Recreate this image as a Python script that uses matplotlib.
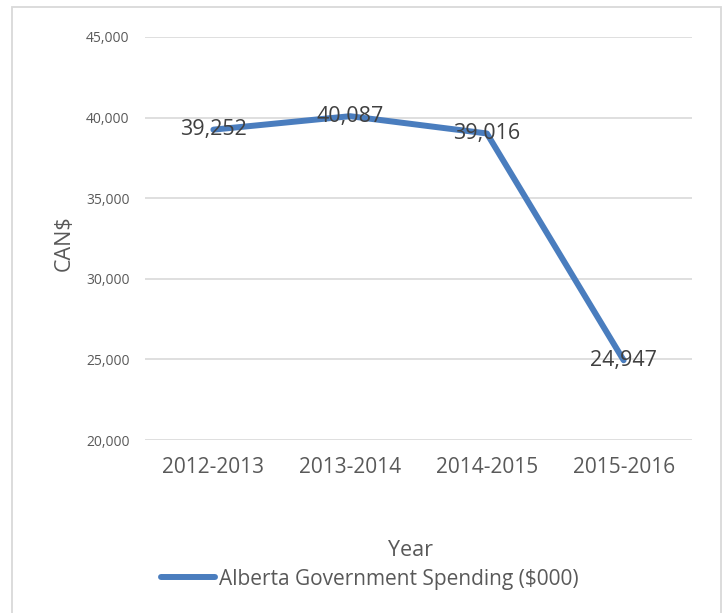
import matplotlib
matplotlib.use("Agg")
import matplotlib.pyplot as plt
from matplotlib.patches import Rectangle
from matplotlib.lines import Line2D
from matplotlib.ticker import FuncFormatter

plt.rcParams['font.family'] = ['Open Sans', 'DejaVu Sans']

years = ["2012-2013", "2013-2014", "2014-2015", "2015-2016"]
spending = [39252, 40087, 39016, 24947]
series_name = "Alberta Government Spending ($000)"

W, H = 725, 613
fig = plt.figure(figsize=(W / 100, H / 100), dpi=100)

# chart-area border
fig.patches.append(Rectangle((12 / W, -0.01), (721 - 12) / W, 1 - 7 / H + 0.01,
                             transform=fig.transFigure, fill=False,
                             edgecolor="#D9D9D9", linewidth=1.3))

ax = fig.add_axes([145 / W, 1 - 440 / H, (692 - 145) / W, (440 - 37) / H])
x = list(range(len(years)))
line_color = "#4A7DBE"
ax.plot(x, spending, color=line_color, linewidth=4.3, solid_capstyle="round",
        solid_joinstyle="round", zorder=3)

for xi, v in zip(x, spending):
    ax.text(xi, v, f"{v:,}", ha="center", va="center", fontsize=15.5,
            color="#404040", zorder=4)

ax.set_xlim(-0.5, len(years) - 0.5)
ax.set_ylim(20000, 45000)
ax.set_yticks(range(20000, 45001, 5000))
ax.yaxis.set_major_formatter(FuncFormatter(lambda v, p: f"{int(v):,}"))
ax.set_xticks(x)
ax.set_xticklabels(years, fontsize=15, color="#595959")
ax.tick_params(axis="y", labelsize=10, labelcolor="#595959", length=0, pad=11)
ax.tick_params(axis="x", length=0, pad=12)
ax.grid(axis="y", color="#D9D9D9", linewidth=1.2)
ax.set_axisbelow(True)
for s in ax.spines.values():
    s.set_visible(False)

fig.text(64 / W, 1 - 243 / H, "CAN$", rotation=90, ha="center", va="center",
         fontsize=15.5, color="#595959")
fig.text(410 / W, 1 - 550 / H, "Year", ha="center", va="center",
         fontsize=15.5, color="#595959")

handle = Line2D([], [], color=line_color, linewidth=4.3, solid_capstyle="round")
fig.legend([handle], [series_name], loc="center", bbox_to_anchor=(370 / W, 1 - 579 / H),
           frameon=False, fontsize=15, labelcolor="#595959", handlelength=2.6,
           handletextpad=0.2)

fig.savefig("out.png", dpi=100)
